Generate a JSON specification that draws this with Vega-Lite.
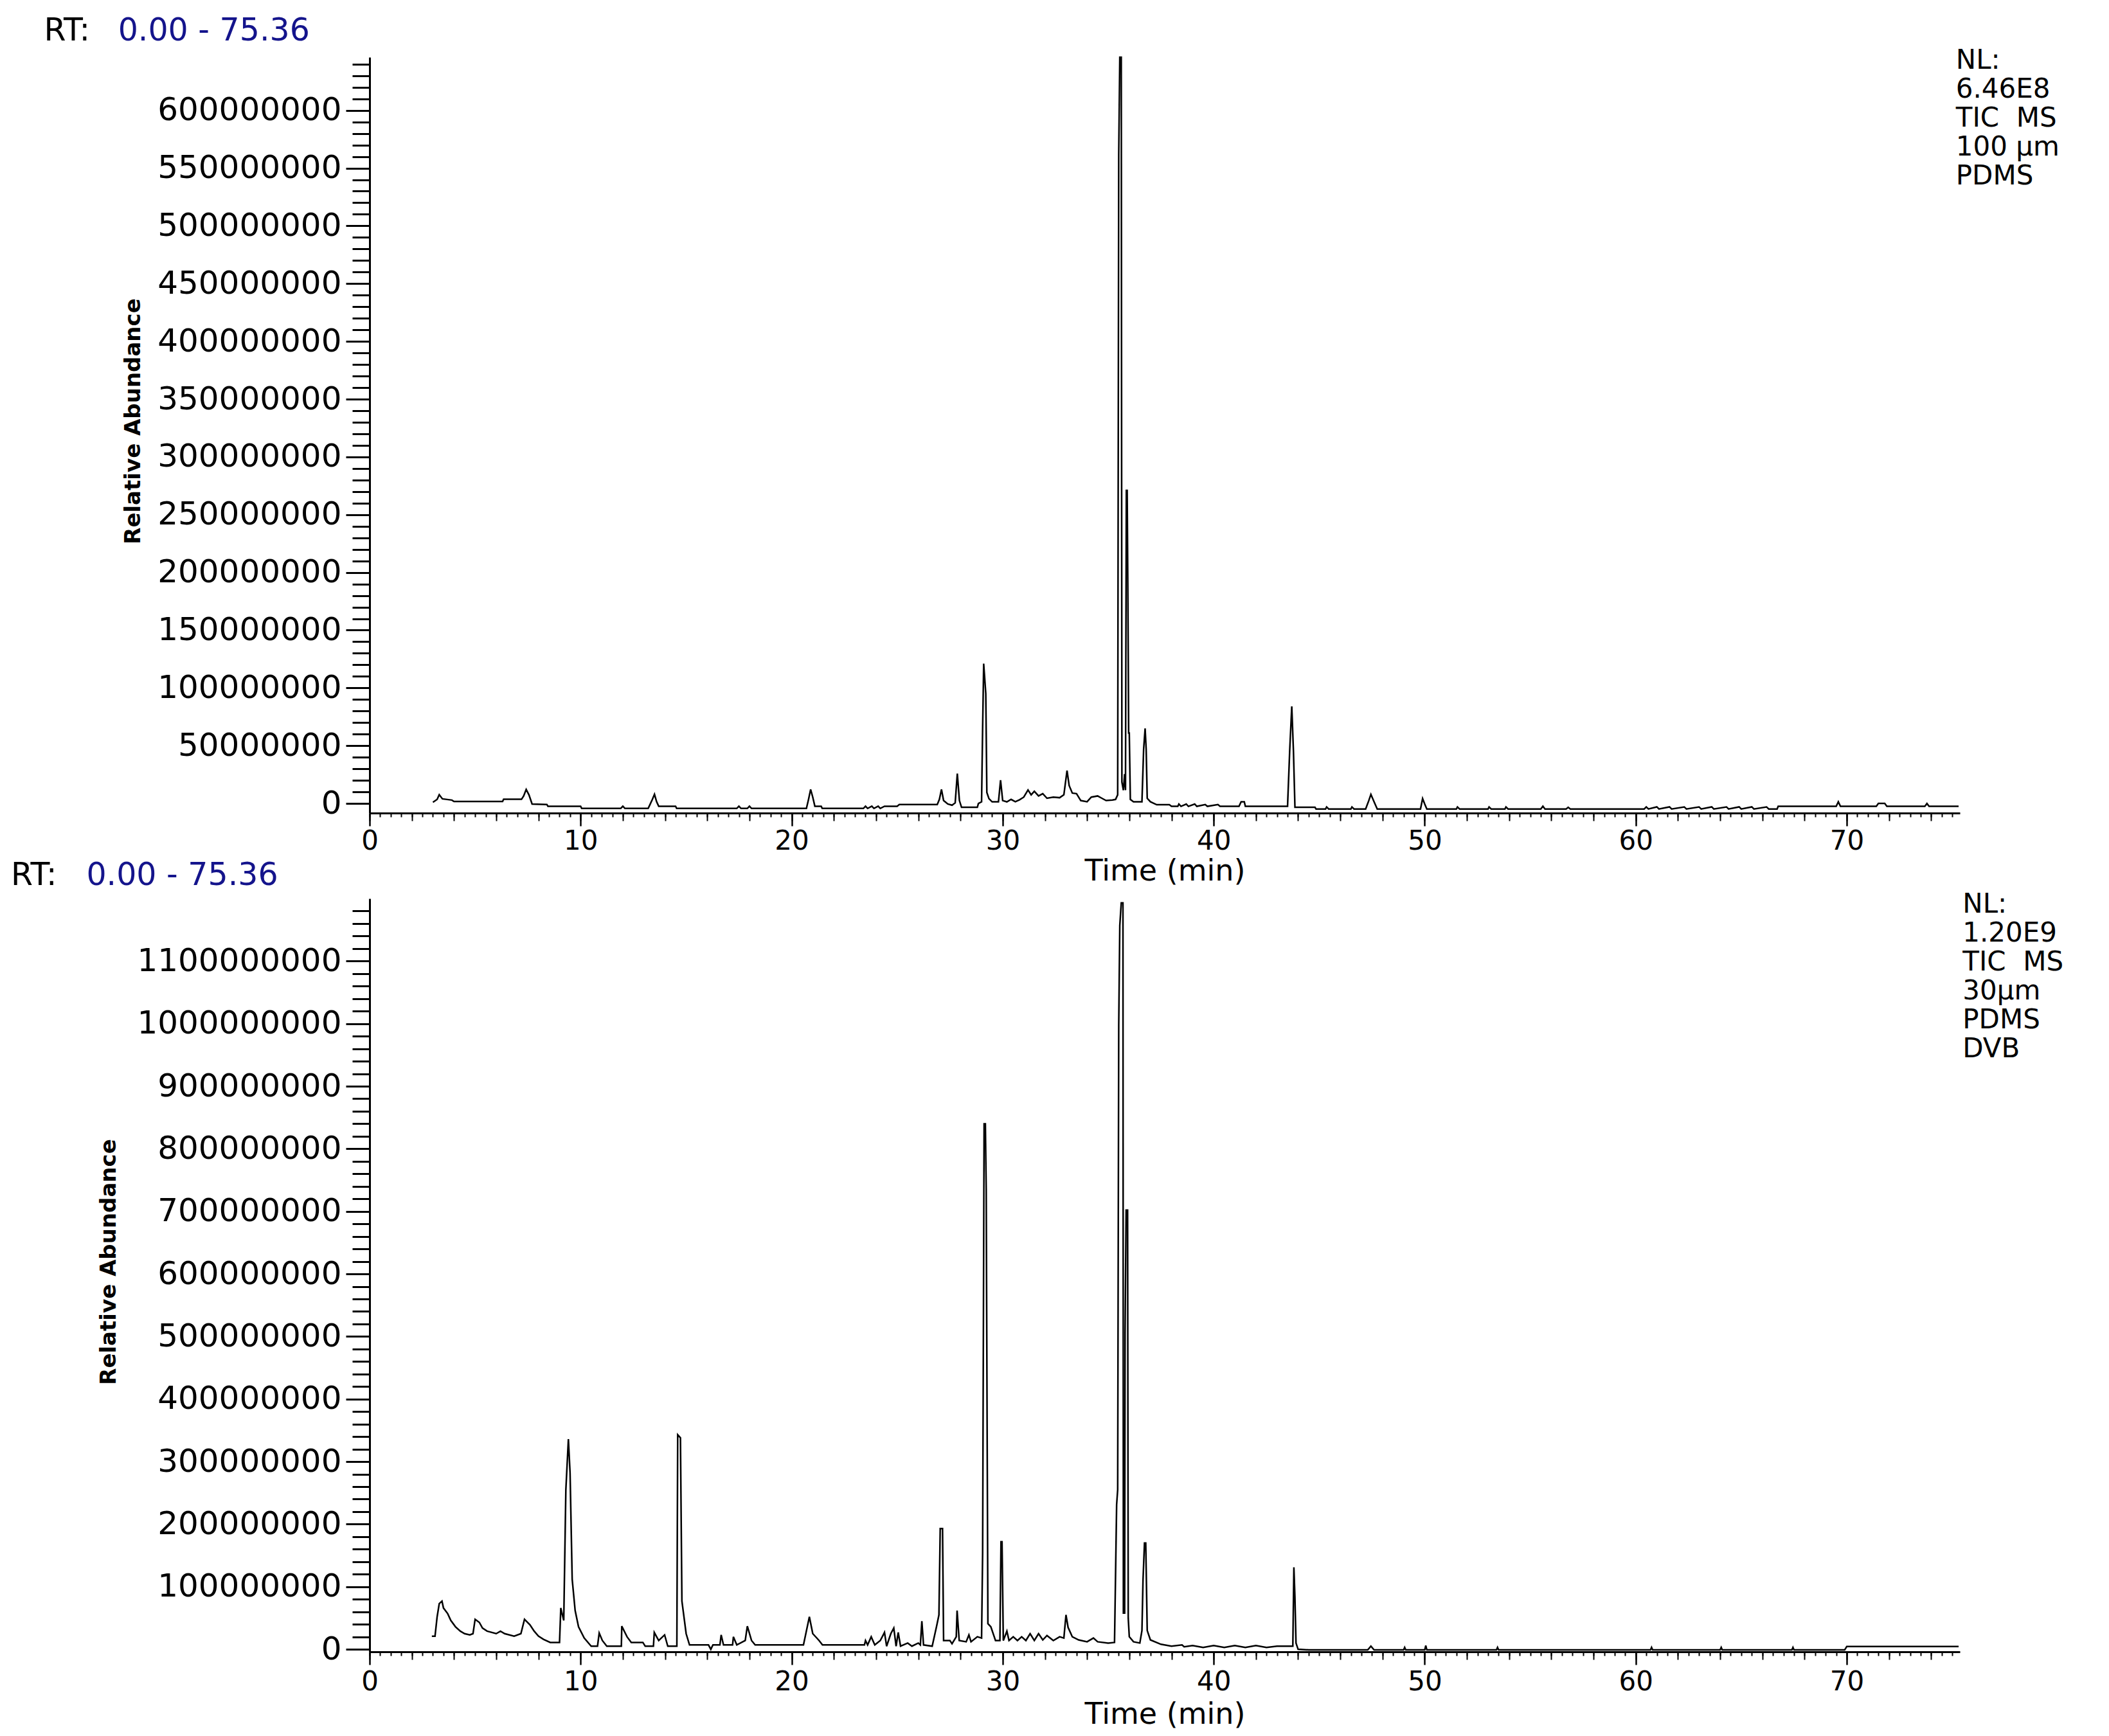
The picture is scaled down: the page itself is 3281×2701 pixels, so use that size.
{
"$schema": "https://vega.github.io/schema/vega-lite/v6.json",
"background": "white",
"padding": {"left": 16, "top": 24, "right": 10, "bottom": 10},
"autosize": {"type": "pad"},
"config": {"view": {"stroke": null}, "font": "DejaVu Sans", "axis": {"grid": false, "domainColor": "black", "tickColor": "black", "labelColor": "black", "titleColor": "black", "labelFont": "DejaVu Sans", "titleFont": "DejaVu Sans", "titleFontWeight": "normal", "labelLimit": 0}},
"datasets": {
"top": [
{"t":3.0,"i":1e6},{"t":3.2,"i":3.5e6},{"t":3.3,"i":7.6e6},{"t":3.45,"i":4e6},{"t":3.9,"i":2.9e6},{"t":4.0,"i":1.7e6},{"t":6.3,"i":1.7e6},{"t":6.35,"i":3.6e6},{"t":7.2,"i":3.6e6},{"t":7.3,"i":6.5e6},{"t":7.42,"i":12.1e6},{"t":7.55,"i":7.5e6},{"t":7.7,"i":-0.5e6},{"t":8.4,"i":-0.9e6},{"t":8.45,"i":-2.4e6},{"t":10.0,"i":-2.4e6},{"t":10.05,"i":-4.3e6},{"t":11.9,"i":-4.3e6},{"t":12.0,"i":-2.4e6},{"t":12.1,"i":-4.3e6},{"t":13.2,"i":-4.3e6},{"t":13.25,"i":-2.4e6},{"t":13.4,"i":3.5e6},{"t":13.5,"i":7.9e6},{"t":13.6,"i":1.5e6},{"t":13.7,"i":-2.4e6},{"t":14.5,"i":-2.4e6},{"t":14.55,"i":-4.3e6},{"t":17.4,"i":-4.3e6},{"t":17.5,"i":-2.4e6},{"t":17.6,"i":-4.3e6},{"t":17.9,"i":-4.3e6},{"t":18.0,"i":-2.4e6},{"t":18.1,"i":-4.3e6},{"t":20.7,"i":-4.3e6},{"t":20.8,"i":3.5e6},{"t":20.9,"i":12.1e6},{"t":21.0,"i":5.5e6},{"t":21.1,"i":-2.4e6},{"t":21.4,"i":-2.4e6},{"t":21.45,"i":-4.3e6},{"t":23.4,"i":-4.3e6},{"t":23.5,"i":-2.4e6},{"t":23.6,"i":-4.3e6},{"t":23.8,"i":-2.4e6},{"t":23.9,"i":-4.3e6},{"t":24.1,"i":-2.4e6},{"t":24.2,"i":-4.3e6},{"t":24.4,"i":-2.4e6},{"t":25.0,"i":-2.4e6},{"t":25.1,"i":-0.9e6},{"t":26.9,"i":-0.9e6},{"t":27.0,"i":3.5e6},{"t":27.1,"i":12.1e6},{"t":27.2,"i":2.5e6},{"t":27.4,"i":-0.5e6},{"t":27.6,"i":-1.5e6},{"t":27.75,"i":0.5e6},{"t":27.85,"i":25.8e6},{"t":27.95,"i":2.5e6},{"t":28.05,"i":-3.3e6},{"t":28.8,"i":-3.3e6},{"t":28.85,"i":0},{"t":29.0,"i":1.4e6},{"t":29.05,"i":65e6},{"t":29.1,"i":121e6},{"t":29.2,"i":95e6},{"t":29.25,"i":9.5e6},{"t":29.35,"i":4.2e6},{"t":29.5,"i":1.4e6},{"t":29.8,"i":1.4e6},{"t":29.9,"i":20.1e6},{"t":30.0,"i":2.5e6},{"t":30.2,"i":1.4e6},{"t":30.4,"i":3.5e6},{"t":30.6,"i":1.5e6},{"t":30.8,"i":3.2e6},{"t":31.0,"i":5.5e6},{"t":31.2,"i":11.7e6},{"t":31.35,"i":7.5e6},{"t":31.5,"i":10.5e6},{"t":31.7,"i":6.5e6},{"t":31.9,"i":8.5e6},{"t":32.1,"i":4.5e6},{"t":32.4,"i":5.5e6},{"t":32.7,"i":5e6},{"t":32.9,"i":7.5e6},{"t":33.05,"i":28.5e6},{"t":33.15,"i":15.5e6},{"t":33.3,"i":9e6},{"t":33.5,"i":8.5e6},{"t":33.7,"i":2.5e6},{"t":34.0,"i":1.5e6},{"t":34.2,"i":5.5e6},{"t":34.5,"i":6.5e6},{"t":34.7,"i":4.5e6},{"t":34.9,"i":2.5e6},{"t":35.2,"i":3e6},{"t":35.35,"i":3.5e6},{"t":35.45,"i":7.5e6},{"t":35.5,"i":562e6},{"t":35.55,"i":646e6},{"t":35.62,"i":646e6},{"t":35.65,"i":18.5e6},{"t":35.72,"i":11.5e6},{"t":35.78,"i":25.5e6},{"t":35.82,"i":11.5e6},{"t":35.86,"i":271e6},{"t":35.9,"i":271e6},{"t":35.93,"i":191e6},{"t":35.97,"i":61e6},{"t":36.0,"i":61e6},{"t":36.05,"i":3.5e6},{"t":36.2,"i":1.5e6},{"t":36.6,"i":1.5e6},{"t":36.68,"i":47e6},{"t":36.75,"i":65e6},{"t":36.8,"i":47e6},{"t":36.85,"i":4.5e6},{"t":37.0,"i":1.5e6},{"t":37.3,"i":-1.1e6},{"t":37.9,"i":-1.1e6},{"t":38.0,"i":-2.5e6},{"t":38.3,"i":-2.5e6},{"t":38.35,"i":-0.5e6},{"t":38.45,"i":-2.5e6},{"t":38.7,"i":-0.5e6},{"t":38.8,"i":-2.5e6},{"t":39.1,"i":-0.5e6},{"t":39.2,"i":-2.5e6},{"t":39.6,"i":-1e6},{"t":39.7,"i":-2.5e6},{"t":40.2,"i":-1e6},{"t":40.3,"i":-2.5e6},{"t":41.2,"i":-2.5e6},{"t":41.3,"i":1.5e6},{"t":41.45,"i":1.5e6},{"t":41.5,"i":-2.5e6},{"t":43.5,"i":-2.5e6},{"t":43.6,"i":45e6},{"t":43.7,"i":84e6},{"t":43.78,"i":45e6},{"t":43.85,"i":-3.3e6},{"t":44.8,"i":-3.3e6},{"t":44.85,"i":-4.8e6},{"t":45.3,"i":-4.8e6},{"t":45.35,"i":-3e6},{"t":45.45,"i":-4.8e6},{"t":46.5,"i":-4.8e6},{"t":46.55,"i":-3e6},{"t":46.65,"i":-4.8e6},{"t":47.2,"i":-4.8e6},{"t":47.35,"i":2.5e6},{"t":47.45,"i":7.9e6},{"t":47.6,"i":1.5e6},{"t":47.75,"i":-4.8e6},{"t":49.8,"i":-4.8e6},{"t":49.9,"i":4.2e6},{"t":50.0,"i":-0.5e6},{"t":50.1,"i":-4.8e6},{"t":51.5,"i":-4.8e6},{"t":51.55,"i":-3e6},{"t":51.65,"i":-4.8e6},{"t":53.0,"i":-4.8e6},{"t":53.05,"i":-3e6},{"t":53.15,"i":-4.8e6},{"t":53.8,"i":-4.8e6},{"t":53.85,"i":-3e6},{"t":53.95,"i":-4.8e6},{"t":55.5,"i":-4.8e6},{"t":55.6,"i":-2.4e6},{"t":55.7,"i":-4.8e6},{"t":56.7,"i":-4.8e6},{"t":56.8,"i":-3.3e6},{"t":56.9,"i":-4.8e6},{"t":60.4,"i":-4.8e6},{"t":60.5,"i":-3e6},{"t":60.6,"i":-4.8e6},{"t":61.0,"i":-3e6},{"t":61.1,"i":-4.8e6},{"t":61.6,"i":-3e6},{"t":61.7,"i":-4.8e6},{"t":62.3,"i":-3e6},{"t":62.4,"i":-4.8e6},{"t":63.0,"i":-3e6},{"t":63.1,"i":-4.8e6},{"t":63.6,"i":-3e6},{"t":63.7,"i":-4.8e6},{"t":64.3,"i":-3e6},{"t":64.4,"i":-4.8e6},{"t":64.9,"i":-3e6},{"t":65.0,"i":-4.8e6},{"t":65.5,"i":-3e6},{"t":65.6,"i":-4.8e6},{"t":66.2,"i":-3e6},{"t":66.3,"i":-4.8e6},{"t":66.7,"i":-4.8e6},{"t":66.75,"i":-2.5e6},{"t":69.5,"i":-2.5e6},{"t":69.6,"i":1.5e6},{"t":69.7,"i":-2.5e6},{"t":71.4,"i":-2.5e6},{"t":71.5,"i":0},{"t":71.8,"i":0},{"t":71.9,"i":-2.5e6},{"t":73.7,"i":-2.5e6},{"t":73.8,"i":0},{"t":73.9,"i":-2.5e6},{"t":75.3,"i":-2.5e6}
],
"bottom": [
{"t":2.95,"i":21e6},{"t":3.1,"i":21e6},{"t":3.2,"i":52e6},{"t":3.3,"i":73e6},{"t":3.43,"i":77e6},{"t":3.5,"i":66e6},{"t":3.7,"i":57e6},{"t":3.85,"i":46e6},{"t":4.07,"i":36e6},{"t":4.3,"i":29e6},{"t":4.5,"i":25e6},{"t":4.75,"i":23e6},{"t":4.9,"i":25e6},{"t":5.0,"i":48e6},{"t":5.2,"i":43e6},{"t":5.35,"i":34e6},{"t":5.57,"i":29e6},{"t":6.0,"i":25e6},{"t":6.2,"i":29e6},{"t":6.4,"i":25e6},{"t":6.85,"i":21e6},{"t":7.17,"i":25e6},{"t":7.34,"i":48e6},{"t":7.6,"i":39e6},{"t":7.8,"i":29e6},{"t":8.0,"i":21e6},{"t":8.24,"i":16e6},{"t":8.56,"i":11e6},{"t":9.0,"i":11e6},{"t":9.06,"i":66e6},{"t":9.2,"i":46e6},{"t":9.3,"i":255e6},{"t":9.42,"i":336e6},{"t":9.5,"i":282e6},{"t":9.6,"i":112e6},{"t":9.74,"i":62e6},{"t":9.9,"i":36e6},{"t":10.17,"i":18e6},{"t":10.5,"i":5e6},{"t":10.8,"i":5e6},{"t":10.88,"i":26e6},{"t":11.03,"i":14e6},{"t":11.24,"i":5e6},{"t":11.93,"i":5e6},{"t":11.95,"i":37e6},{"t":12.2,"i":20e6},{"t":12.4,"i":11e6},{"t":12.95,"i":11e6},{"t":13.06,"i":5e6},{"t":13.45,"i":5e6},{"t":13.49,"i":27e6},{"t":13.7,"i":14e6},{"t":13.98,"i":23e6},{"t":14.13,"i":5e6},{"t":14.56,"i":5e6},{"t":14.6,"i":343e6},{"t":14.73,"i":338e6},{"t":14.8,"i":77e6},{"t":15.0,"i":25e6},{"t":15.16,"i":7e6},{"t":16.06,"i":7e6},{"t":16.17,"i":0},{"t":16.27,"i":7e6},{"t":16.6,"i":7e6},{"t":16.66,"i":23e6},{"t":16.77,"i":7e6},{"t":17.2,"i":7e6},{"t":17.24,"i":20e6},{"t":17.4,"i":7e6},{"t":17.8,"i":14e6},{"t":17.9,"i":37e6},{"t":18.1,"i":14e6},{"t":18.27,"i":7e6},{"t":20.56,"i":7e6},{"t":20.84,"i":52e6},{"t":21.0,"i":25e6},{"t":21.3,"i":14e6},{"t":21.46,"i":7e6},{"t":23.45,"i":7e6},{"t":23.5,"i":14e6},{"t":23.6,"i":7e6},{"t":23.77,"i":20e6},{"t":23.94,"i":7e6},{"t":24.2,"i":14e6},{"t":24.4,"i":27e6},{"t":24.5,"i":5e6},{"t":24.7,"i":25e6},{"t":24.84,"i":34e6},{"t":24.95,"i":5e6},{"t":25.05,"i":27e6},{"t":25.16,"i":5e6},{"t":25.5,"i":10e6},{"t":25.7,"i":5e6},{"t":26.0,"i":10e6},{"t":26.1,"i":7e6},{"t":26.17,"i":45e6},{"t":26.25,"i":7e6},{"t":26.66,"i":5e6},{"t":26.87,"i":37e6},{"t":26.98,"i":55e6},{"t":27.04,"i":193e6},{"t":27.15,"i":193e6},{"t":27.2,"i":14e6},{"t":27.5,"i":14e6},{"t":27.6,"i":9e6},{"t":27.8,"i":20e6},{"t":27.84,"i":62e6},{"t":27.94,"i":14e6},{"t":28.27,"i":12e6},{"t":28.4,"i":23e6},{"t":28.5,"i":12e6},{"t":28.8,"i":20e6},{"t":29.0,"i":18e6},{"t":29.05,"i":154e6},{"t":29.12,"i":840e6},{"t":29.18,"i":840e6},{"t":29.22,"i":734e6},{"t":29.3,"i":41e6},{"t":29.44,"i":36e6},{"t":29.66,"i":14e6},{"t":29.87,"i":14e6},{"t":29.92,"i":172e6},{"t":29.97,"i":172e6},{"t":30.03,"i":14e6},{"t":30.2,"i":29e6},{"t":30.3,"i":14e6},{"t":30.5,"i":20e6},{"t":30.7,"i":14e6},{"t":30.9,"i":20e6},{"t":31.1,"i":14e6},{"t":31.3,"i":25e6},{"t":31.5,"i":14e6},{"t":31.7,"i":25e6},{"t":31.9,"i":15e6},{"t":32.1,"i":22e6},{"t":32.4,"i":14e6},{"t":32.7,"i":20e6},{"t":32.9,"i":18e6},{"t":33.0,"i":55e6},{"t":33.1,"i":35e6},{"t":33.3,"i":20e6},{"t":33.6,"i":15e6},{"t":34.0,"i":12e6},{"t":34.3,"i":18e6},{"t":34.5,"i":12e6},{"t":35.0,"i":10e6},{"t":35.3,"i":11e6},{"t":35.4,"i":231e6},{"t":35.45,"i":255e6},{"t":35.5,"i":997e6},{"t":35.55,"i":1157e6},{"t":35.62,"i":1193e6},{"t":35.7,"i":1193e6},{"t":35.72,"i":58e6},{"t":35.78,"i":58e6},{"t":35.8,"i":506e6},{"t":35.85,"i":702e6},{"t":35.92,"i":702e6},{"t":35.95,"i":50e6},{"t":36.0,"i":20e6},{"t":36.2,"i":12e6},{"t":36.5,"i":10e6},{"t":36.6,"i":30e6},{"t":36.65,"i":110e6},{"t":36.72,"i":170e6},{"t":36.78,"i":170e6},{"t":36.85,"i":30e6},{"t":37.0,"i":15e6},{"t":37.5,"i":8e6},{"t":38.0,"i":5e6},{"t":38.5,"i":7e6},{"t":38.6,"i":4e6},{"t":39.0,"i":6e6},{"t":39.5,"i":3e6},{"t":40.0,"i":6e6},{"t":40.5,"i":3e6},{"t":41.0,"i":6e6},{"t":41.5,"i":3e6},{"t":42.0,"i":6e6},{"t":42.5,"i":3e6},{"t":43.0,"i":5e6},{"t":43.75,"i":5e6},{"t":43.8,"i":131e6},{"t":43.85,"i":83e6},{"t":43.9,"i":10e6},{"t":44.0,"i":0},{"t":44.5,"i":-1e6},{"t":47.3,"i":-1e6},{"t":47.45,"i":5e6},{"t":47.6,"i":-1e6},{"t":49.0,"i":-1e6},{"t":49.05,"i":3e6},{"t":49.1,"i":-1e6},{"t":50.0,"i":-1e6},{"t":50.05,"i":6e6},{"t":50.1,"i":-1e6},{"t":53.4,"i":-1e6},{"t":53.45,"i":3e6},{"t":53.5,"i":-1e6},{"t":60.7,"i":-1e6},{"t":60.75,"i":3e6},{"t":60.8,"i":-1e6},{"t":64.0,"i":-1e6},{"t":64.05,"i":3e6},{"t":64.1,"i":-1e6},{"t":67.4,"i":-1e6},{"t":67.45,"i":3e6},{"t":67.5,"i":-1e6},{"t":69.9,"i":-1e6},{"t":70.0,"i":4.5e6},{"t":75.3,"i":4.5e6}
]
},
"spacing": 133,
"bounds": "flush",
"vconcat": [
{
"width": 2474, "height": 1176,
"resolve": {"axis": {"x": "independent", "y": "independent"}},
"layer": [
{"data": {"name": "top"}, "mark": {"type": "line", "color": "black", "strokeWidth": 2.5},
 "encoding": {
  "x": {"field": "t", "type": "quantitative", "scale": {"domain": [0, 75.36], "nice": false, "zero": false},
   "axis": {"orient": "bottom", "values": [0,10,20,30,40,50,60,70], "tickSize": 20, "tickWidth": 2.5, "domainWidth": 3, "labelFontSize": 42, "labelPadding": 3, "labelFlush": false, "labelOverlap": false, "format": "d", "title": "Time (min)", "titleFontSize": 46, "titleBaseline": "alphabetic", "titleY": 104, "titleX": 1237}},
  "y": {"field": "i", "type": "quantitative", "scale": {"domain": [-8300000, 646000000], "nice": false, "zero": false},
   "axis": {"orient": "left", "values": [0,50000000,100000000,150000000,200000000,250000000,300000000,350000000,400000000,450000000,500000000,550000000,600000000], "format": "d", "tickSize": 37, "tickWidth": 3, "domainWidth": 3, "labelFontSize": 50, "labelPadding": 7, "labelFlush": false, "labelOverlap": false, "title": "Relative Abundance", "titleFontSize": 34, "titleFontWeight": "bold", "titleAngle": 270, "titleAlign": "center", "titleBaseline": "middle", "titleX": -368, "titleY": 566}}
 }},
{"data": {"values": [{"t": -15.43, "i": 660400000, "label": "RT:"}]}, "mark": {"type": "text", "align": "left", "baseline": "alphabetic", "fontSize": 49, "color": "black"},
 "encoding": {
  "x": {"field": "t", "type": "quantitative", "scale": {"domain": [0, 75.36], "nice": false, "zero": false},
   "axis": {"orient": "bottom", "values": [0,2,4,6,8,10,12,14,16,18,20,22,24,26,28,30,32,34,36,38,40,42,44,46,48,50,52,54,56,58,60,62,64,66,68,70,72,74], "tickSize": 12, "tickWidth": 2, "domain": false, "labels": false, "title": null}},
  "y": {"field": "i", "type": "quantitative", "scale": {"domain": [-8300000, 646000000], "nice": false, "zero": false},
   "axis": {"orient": "left", "values": [0,10000000,20000000,30000000,40000000,50000000,60000000,70000000,80000000,90000000,100000000,110000000,120000000,130000000,140000000,150000000,160000000,170000000,180000000,190000000,200000000,210000000,220000000,230000000,240000000,250000000,260000000,270000000,280000000,290000000,300000000,310000000,320000000,330000000,340000000,350000000,360000000,370000000,380000000,390000000,400000000,410000000,420000000,430000000,440000000,450000000,460000000,470000000,480000000,490000000,500000000,510000000,520000000,530000000,540000000,550000000,560000000,570000000,580000000,590000000,600000000,610000000,620000000,630000000,640000000], "tickSize": 27, "tickWidth": 3, "domain": false, "labels": false, "title": null}},
  "text": {"field": "label"}
 }},
{"data": {"values": [{"t": -11.92, "i": 660400000, "label": "0.00 - 75.36"}]}, "mark": {"type": "text", "align": "left", "baseline": "alphabetic", "fontSize": 49, "color": "#14148c"},
 "encoding": {
  "x": {"field": "t", "type": "quantitative", "scale": {"domain": [0, 75.36], "nice": false, "zero": false},
   "axis": {"orient": "bottom", "values": [0,0.5,1,1.5,2,2.5,3,3.5,4,4.5,5,5.5,6,6.5,7,7.5,8,8.5,9,9.5,10,10.5,11,11.5,12,12.5,13,13.5,14,14.5,15,15.5,16,16.5,17,17.5,18,18.5,19,19.5,20,20.5,21,21.5,22,22.5,23,23.5,24,24.5,25,25.5,26,26.5,27,27.5,28,28.5,29,29.5,30,30.5,31,31.5,32,32.5,33,33.5,34,34.5,35,35.5,36,36.5,37,37.5,38,38.5,39,39.5,40,40.5,41,41.5,42,42.5,43,43.5,44,44.5,45,45.5,46,46.5,47,47.5,48,48.5,49,49.5,50,50.5,51,51.5,52,52.5,53,53.5,54,54.5,55,55.5,56,56.5,57,57.5,58,58.5,59,59.5,60,60.5,61,61.5,62,62.5,63,63.5,64,64.5,65,65.5,66,66.5,67,67.5,68,68.5,69,69.5,70,70.5,71,71.5,72,72.5,73,73.5,74,74.5,75], "tickSize": 6, "tickWidth": 2, "domain": false, "labels": false, "title": null}},
  "y": {"field": "i", "type": "quantitative", "scale": {"domain": [-8300000, 646000000], "nice": false, "zero": false}, "axis": null},
  "text": {"field": "label"}
 }},
{"data": {"values": [{"t": 75.17, "i": 636200000, "label": "NL:\n6.46E8\nTIC\u00a0\u00a0MS\n100\u00a0µm\nPDMS"}]}, "mark": {"type": "text", "align": "left", "baseline": "alphabetic", "fontSize": 42, "lineBreak": "\n", "lineHeight": 45, "color": "black"},
 "encoding": {
  "x": {"field": "t", "type": "quantitative", "scale": {"domain": [0, 75.36], "nice": false, "zero": false}, "axis": null},
  "y": {"field": "i", "type": "quantitative", "scale": {"domain": [-8300000, 646000000], "nice": false, "zero": false}, "axis": null},
  "text": {"field": "label"}
 }}
]
},
{
"width": 2474, "height": 1172,
"resolve": {"axis": {"x": "independent", "y": "independent"}},
"layer": [
{"data": {"name": "bottom"}, "mark": {"type": "line", "color": "black", "strokeWidth": 2.5},
 "encoding": {
  "x": {"field": "t", "type": "quantitative", "scale": {"domain": [0, 75.36], "nice": false, "zero": false},
   "axis": {"orient": "bottom", "values": [0,10,20,30,40,50,60,70], "tickSize": 20, "tickWidth": 2.5, "domainWidth": 3, "labelFontSize": 42, "labelPadding": 6, "labelFlush": false, "labelOverlap": false, "format": "d", "title": "Time (min)", "titleFontSize": 46, "titleBaseline": "alphabetic", "titleY": 111, "titleX": 1237}},
  "y": {"field": "i", "type": "quantitative", "scale": {"domain": [-4000000, 1200000000], "nice": false, "zero": false},
   "axis": {"orient": "left", "values": [0,100000000,200000000,300000000,400000000,500000000,600000000,700000000,800000000,900000000,1000000000,1100000000], "format": "d", "tickSize": 37, "tickWidth": 3, "domainWidth": 3, "labelFontSize": 50, "labelPadding": 7, "labelFlush": false, "labelOverlap": false, "title": "Relative Abundance", "titleFontSize": 34, "titleFontWeight": "bold", "titleAngle": 270, "titleAlign": "center", "titleBaseline": "middle", "titleX": -406, "titleY": 565}}
 }},
{"data": {"values": [{"t": -17.0, "i": 1221400000, "label": "RT:"}]}, "mark": {"type": "text", "align": "left", "baseline": "alphabetic", "fontSize": 49, "color": "black"},
 "encoding": {
  "x": {"field": "t", "type": "quantitative", "scale": {"domain": [0, 75.36], "nice": false, "zero": false},
   "axis": {"orient": "bottom", "values": [0,2,4,6,8,10,12,14,16,18,20,22,24,26,28,30,32,34,36,38,40,42,44,46,48,50,52,54,56,58,60,62,64,66,68,70,72,74], "tickSize": 12, "tickWidth": 2, "domain": false, "labels": false, "title": null}},
  "y": {"field": "i", "type": "quantitative", "scale": {"domain": [-4000000, 1200000000], "nice": false, "zero": false},
   "axis": {"orient": "left", "values": [0,20000000,40000000,60000000,80000000,100000000,120000000,140000000,160000000,180000000,200000000,220000000,240000000,260000000,280000000,300000000,320000000,340000000,360000000,380000000,400000000,420000000,440000000,460000000,480000000,500000000,520000000,540000000,560000000,580000000,600000000,620000000,640000000,660000000,680000000,700000000,720000000,740000000,760000000,780000000,800000000,820000000,840000000,860000000,880000000,900000000,920000000,940000000,960000000,980000000,1000000000,1020000000,1040000000,1060000000,1080000000,1100000000,1120000000,1140000000,1160000000,1180000000], "tickSize": 27, "tickWidth": 3, "domain": false, "labels": false, "title": null}},
  "text": {"field": "label"}
 }},
{"data": {"values": [{"t": -13.42, "i": 1221400000, "label": "0.00 - 75.36"}]}, "mark": {"type": "text", "align": "left", "baseline": "alphabetic", "fontSize": 49, "color": "#14148c"},
 "encoding": {
  "x": {"field": "t", "type": "quantitative", "scale": {"domain": [0, 75.36], "nice": false, "zero": false},
   "axis": {"orient": "bottom", "values": [0,0.5,1,1.5,2,2.5,3,3.5,4,4.5,5,5.5,6,6.5,7,7.5,8,8.5,9,9.5,10,10.5,11,11.5,12,12.5,13,13.5,14,14.5,15,15.5,16,16.5,17,17.5,18,18.5,19,19.5,20,20.5,21,21.5,22,22.5,23,23.5,24,24.5,25,25.5,26,26.5,27,27.5,28,28.5,29,29.5,30,30.5,31,31.5,32,32.5,33,33.5,34,34.5,35,35.5,36,36.5,37,37.5,38,38.5,39,39.5,40,40.5,41,41.5,42,42.5,43,43.5,44,44.5,45,45.5,46,46.5,47,47.5,48,48.5,49,49.5,50,50.5,51,51.5,52,52.5,53,53.5,54,54.5,55,55.5,56,56.5,57,57.5,58,58.5,59,59.5,60,60.5,61,61.5,62,62.5,63,63.5,64,64.5,65,65.5,66,66.5,67,67.5,68,68.5,69,69.5,70,70.5,71,71.5,72,72.5,73,73.5,74,74.5,75], "tickSize": 6, "tickWidth": 2, "domain": false, "labels": false, "title": null}},
  "y": {"field": "i", "type": "quantitative", "scale": {"domain": [-4000000, 1200000000], "nice": false, "zero": false}, "axis": null},
  "text": {"field": "label"}
 }},
{"data": {"values": [{"t": 75.49, "i": 1177000000, "label": "NL:\n1.20E9\nTIC\u00a0\u00a0MS\n30µm\nPDMS\nDVB"}]}, "mark": {"type": "text", "align": "left", "baseline": "alphabetic", "fontSize": 42, "lineBreak": "\n", "lineHeight": 45, "color": "black"},
 "encoding": {
  "x": {"field": "t", "type": "quantitative", "scale": {"domain": [0, 75.36], "nice": false, "zero": false}, "axis": null},
  "y": {"field": "i", "type": "quantitative", "scale": {"domain": [-4000000, 1200000000], "nice": false, "zero": false}, "axis": null},
  "text": {"field": "label"}
 }}
]
}
]
}
